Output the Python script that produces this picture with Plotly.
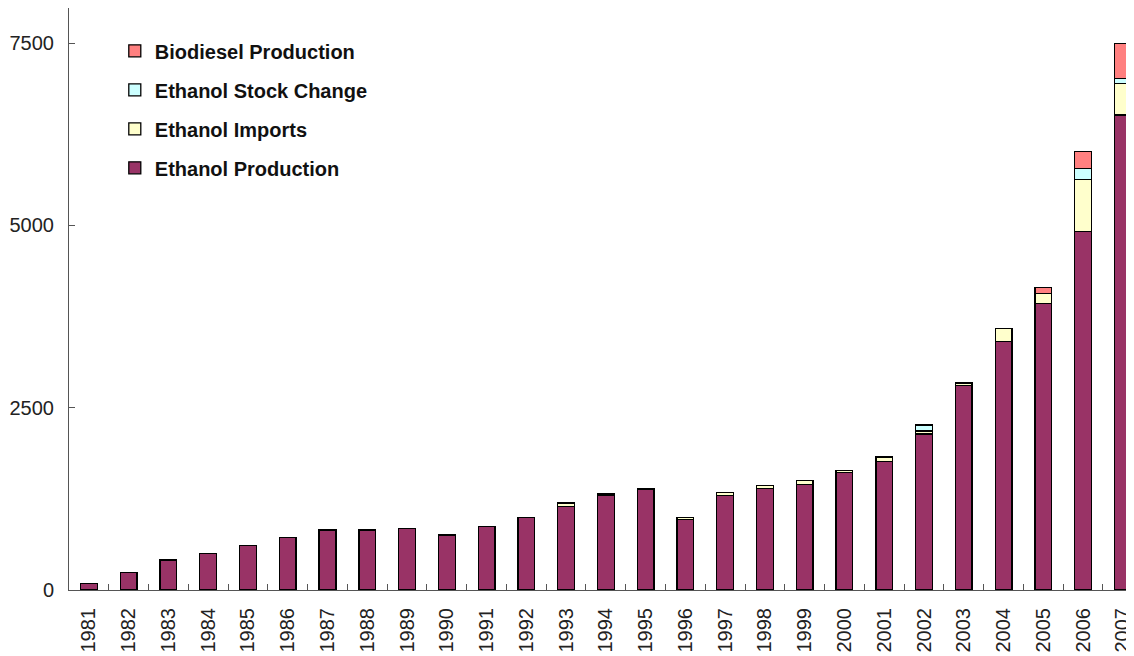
import plotly.graph_objects as go

years = [str(y) for y in range(1981, 2008)]
ethanol_production = [92, 238, 412, 504, 614, 719, 824, 824, 848, 756, 870, 994, 1145,
                      1292, 1374, 971, 1292, 1392, 1447, 1612, 1759, 2139, 2807, 3412,
                      3930, 4914, 6513]
ethanol_imports = [0, 0, 0, 0, 0, 0, 0, 0, 0, 0, 0, 0, 46,
                   25, 10, 22, 45, 37, 55, 30, 64, 42, 33, 172,
                   135, 719, 435]
ethanol_stock_change = [0] * 21 + [80, 0, 0, 0, 147, 65]
biodiesel_production = [0] * 24 + [85, 236, 477]

series = [
    ("Ethanol Production", ethanol_production, "#993366"),
    ("Ethanol Imports", ethanol_imports, "#FFFFCC"),
    ("Ethanol Stock Change", ethanol_stock_change, "#CCFFFF"),
    ("Biodiesel Production", biodiesel_production, "#FF8080"),
]

FONT = "Liberation Sans, Arial, sans-serif"

fig = go.Figure()
for i, (name, vals, color) in enumerate(series):
    fig.add_trace(go.Bar(
        x=years, y=vals, name="<b>" + name + "</b>",
        marker=dict(color=color, line=dict(color="black", width=1.3)),
        legendgroup="g%d" % i, legendrank=len(series) - i,
    ))

# the page body has an 8px default margin, so the figure is sized/offset to compensate
fig.update_layout(
    width=1126, height=648,
    barmode="stack", bargap=0.58,
    plot_bgcolor="white", paper_bgcolor="white",
    margin=dict(l=61, r=0, t=0, b=66),
    font=dict(family=FONT, size=20, color="#222"),
    showlegend=True,
    legend=dict(
        traceorder="grouped", x=0.043, y=0.960, xanchor="left", yanchor="top",
        bgcolor="rgba(0,0,0,0)", font=dict(family=FONT, size=20, color="#111"),
        tracegroupgap=10,
    ),
    xaxis=dict(
        type="category", range=[-0.5, 26.28], automargin=False,
        showline=True, linecolor="#555", linewidth=1,
        ticks="inside", ticklen=6, tickcolor="#555", tickson="boundaries",
        tickangle=-90, ticklabelstandoff=9,
        tickfont=dict(family=FONT, size=20, color="#222"),
        showgrid=False, zeroline=False,
    ),
    yaxis=dict(
        range=[0, 7980], tickvals=[0, 2500, 5000, 7500], automargin=False,
        showline=True, linecolor="#555", linewidth=1,
        ticks="inside", ticklen=6, tickcolor="#555", ticklabelstandoff=10,
        tickfont=dict(family=FONT, size=20, color="#222"),
        showgrid=False, zeroline=False,
    ),
)

fig.write_html("out.html")
